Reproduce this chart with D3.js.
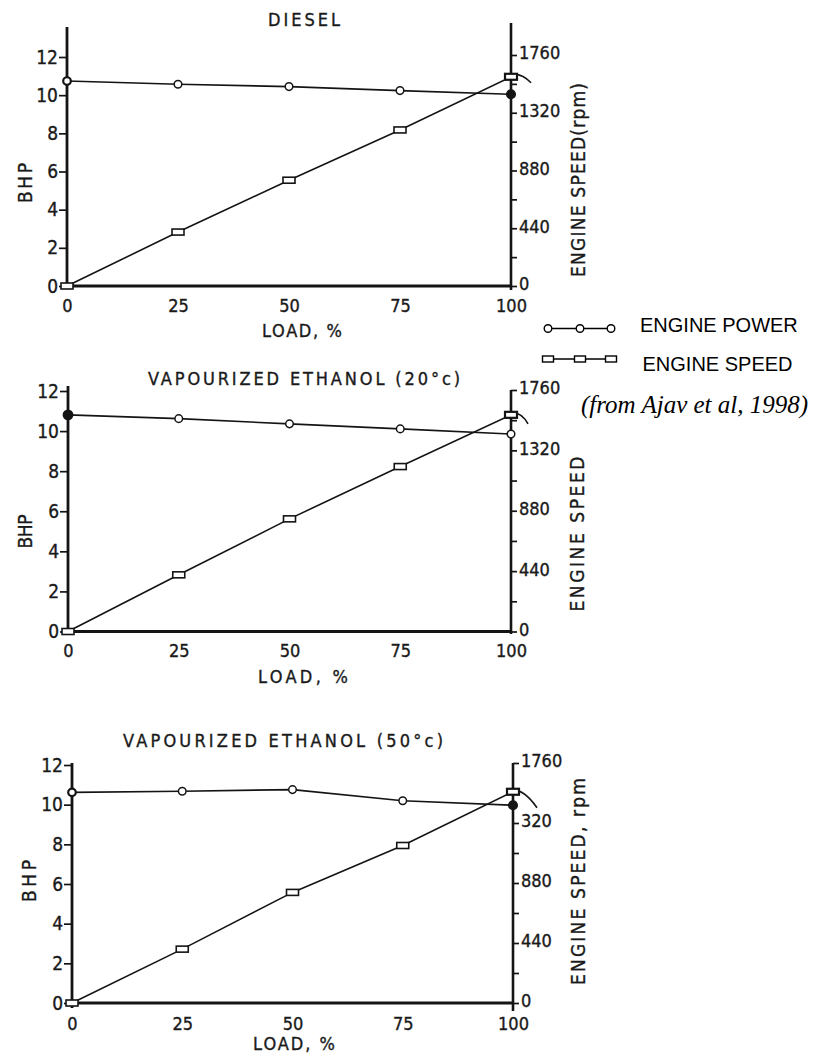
<!DOCTYPE html>
<html>
<head>
<meta charset="utf-8">
<script src="https://cdn.jsdelivr.net/npm/d3@7"></script>
<style>
  body { margin: 0; background: #fff; }
  svg { display: block; }
  .lab { font-family: "DejaVu Sans Condensed", "DejaVu Sans", sans-serif; fill: #1a1a1a; stroke: #1a1a1a; stroke-width: 0.35; }
  .leg { font-family: "Liberation Sans", Arial, sans-serif; fill: #000; }
  .cite { font-family: "Liberation Serif", "Times New Roman", serif; font-style: italic; fill: #000; }
</style>
</head>
<body>
<svg id="chart" width="826" height="1056"></svg>
<script>
// Engine power (BHP) and engine speed (rpm) against load, three fuels
const loads = [0, 25, 50, 75, 100];

const dieselPower = [10.74, 10.57, 10.45, 10.24, 10.05];
const dieselSpeed = [0, 411, 806, 1189, 1594];

const eth20Power = [10.81, 10.62, 10.36, 10.11, 9.85];
const eth20Speed = [0, 413, 821, 1202, 1579];

const eth50Power = [10.62, 10.68, 10.76, 10.2, 9.97];
const eth50Speed = [0, 395, 811, 1155, 1549];

const bhpTicks = [0, 2, 4, 6, 8, 10, 12];
const rpmTicks = [0, 440, 880, 1320, 1760];
const rpmMinorTicks = [220, 660, 1100, 1540];
const loadTicks = [0, 25, 50, 75, 100];

const rpmTickLabels = ["0", "440", "880", "1320", "1760"];
const rpmTickLabelsEth50 = ["0", "440", "880", "320", "1760"];

const panelTitles = ["DIESEL", "VAPOURIZED ETHANOL (20°c)", "VAPOURIZED ETHANOL (50°c)"];
const speedAxisTitles = ["ENGINE SPEED(rpm)", "ENGINE SPEED", "ENGINE SPEED, rpm"];
const powerAxisTitle = "BHP";
const loadAxisTitle = "LOAD, %";
const legendLabels = ["ENGINE POWER", "ENGINE SPEED"];
const sourceNote = "(from Ajav et al, 1998)";

// Panel frames and text placement
const panels = [
  { title: panelTitles[0], power: dieselPower, speed: dieselSpeed, rpmLabels: rpmTickLabels,
    speedTitle: speedAxisTitles[0], filledEnd: 4,
    x0: 67, x1: 511, y0: 286, yBhp12: 57, yRpmTop: 55,
    leftTop: 27, rightTop: 23, leftBottom: 288, rightBottom: 290,
    titleX: 268, titleY: 26, titleW: 72,
    xLabelY: 312, loadX: 262, loadY: 337, loadW: 80,
    bhpX: 32, bhpY: 183, bhpW: 40,
    spX: 585, spY: 180, spW: 194,
    arcEnd: [20, 6] },
  { title: panelTitles[1], power: eth20Power, speed: eth20Speed, rpmLabels: rpmTickLabels,
    speedTitle: speedAxisTitles[1], filledEnd: 0,
    x0: 68, x1: 511, y0: 631.5, yBhp12: 391, yRpmTop: 390,
    leftTop: 386, rightTop: 390, leftBottom: 634, rightBottom: 634,
    titleX: 148, titleY: 385, titleW: 312,
    xLabelY: 657.5, loadX: 258, loadY: 683, loadW: 90,
    bhpX: 31.5, bhpY: 531.5, bhpW: 34,
    spX: 583.5, spY: 534, spW: 155,
    arcEnd: [17, 9] },
  { title: panelTitles[2], power: eth50Power, speed: eth50Speed, rpmLabels: rpmTickLabelsEth50,
    speedTitle: speedAxisTitles[2], filledEnd: 4,
    x0: 72, x1: 513, y0: 1003, yBhp12: 765, yRpmTop: 763,
    leftTop: 763, rightTop: 763, leftBottom: 1008, rightBottom: 1011,
    titleX: 123, titleY: 746.5, titleW: 320,
    xLabelY: 1030, loadX: 253, loadY: 1050, loadW: 82,
    bhpX: 36, bhpY: 881, bhpW: 42,
    spX: 585, spY: 881.5, spW: 207,
    arcEnd: [24, 16] }
];

const svg = d3.select("#chart");
const ink = "#141414";
const labFont = '"DejaVu Sans Condensed","DejaVu Sans",sans-serif';

panels.forEach(p => {
  const g = svg.append("g");
  const x = d3.scaleLinear().domain([0, 100]).range([p.x0, p.x1]);
  const yL = d3.scaleLinear().domain([0, 12]).range([p.y0, p.yBhp12]);
  const yR = d3.scaleLinear().domain([0, 1760]).range([p.y0, p.yRpmTop]);

  // left BHP axis ticks
  const la = g.append("g").attr("transform", `translate(${p.x0},0)`)
    .call(d3.axisLeft(yL).tickValues(bhpTicks).tickSize(8).tickPadding(1).tickFormat(d3.format("d")));
  // right rpm axis ticks (labelled and minor)
  const ra = g.append("g").attr("transform", `translate(${p.x1},0)`)
    .call(d3.axisRight(yR).tickValues(rpmTicks).tickSize(6).tickPadding(2)
      .tickFormat((d, i) => p.rpmLabels[i]));
  const rm = g.append("g").attr("transform", `translate(${p.x1},0)`)
    .call(d3.axisRight(yR).tickValues(rpmMinorTicks).tickSize(6).tickFormat(""));
  // load axis labels
  const ba = g.append("g").attr("transform", `translate(0,${p.y0})`)
    .call(d3.axisBottom(x).tickValues(loadTicks).tickSize(0).tickPadding(p.xLabelY - p.y0 - 13)
      .tickFormat(d3.format("d")));

  [la, ra, rm, ba].forEach(a => {
    a.select(".domain").remove();
    a.selectAll(".tick line").attr("stroke", ink).attr("stroke-width", 1.7);
    a.selectAll(".tick text").attr("class", "lab").attr("font-size", 19)
      .attr("fill", ink).style("font-family", labFont);
  });
  ba.selectAll(".tick text").attr("font-size", 18);
  ra.selectAll(".tick text").attr("font-size", 18).attr("dy", "0.22em");

  // frame lines
  g.append("line").attr("x1", p.x0).attr("x2", p.x0).attr("y1", p.leftBottom).attr("y2", p.leftTop)
    .attr("stroke", ink).attr("stroke-width", 2.8);
  g.append("line").attr("x1", p.x1).attr("x2", p.x1).attr("y1", p.rightBottom).attr("y2", p.rightTop)
    .attr("stroke", ink).attr("stroke-width", 2.6);
  g.append("line").attr("x1", p.x0 - 1).attr("x2", p.x1).attr("y1", p.y0).attr("y2", p.y0)
    .attr("stroke", ink).attr("stroke-width", 2.8);

  // series lines
  const powerLine = d3.line().x((d, i) => x(loads[i])).y(d => yL(d));
  const speedLine = d3.line().x((d, i) => x(loads[i])).y(d => yR(d));
  g.append("path").attr("d", powerLine(p.power)).attr("fill", "none").attr("stroke", ink).attr("stroke-width", 1.6);
  g.append("path").attr("d", speedLine(p.speed)).attr("fill", "none").attr("stroke", ink).attr("stroke-width", 1.6);

  // curved stroke beside the full-load speed point
  const sx = x(loads[4]), sy = yR(p.speed[4]);
  g.append("path")
    .attr("d", `M${sx - 6},${sy} Q${sx + 8},${sy - 7} ${sx + p.arcEnd[0]},${sy + p.arcEnd[1]}`)
    .attr("fill", "none").attr("stroke", ink).attr("stroke-width", 1.6);

  // speed markers (flat open rectangles)
  g.selectAll(".sq").data(p.speed).join("rect")
    .attr("x", (d, i) => x(loads[i]) - 6).attr("y", d => yR(d) - 3)
    .attr("width", 12).attr("height", 6)
    .attr("fill", "#fff").attr("stroke", ink).attr("stroke-width", (d, i) => i === 4 ? 2.2 : 1.6);

  // power markers (open circles, one filled end)
  g.selectAll(".ci").data(p.power).join("circle")
    .attr("cx", (d, i) => x(loads[i])).attr("cy", d => yL(d))
    .attr("r", (d, i) => i === p.filledEnd ? 4.3 : 3.8)
    .attr("fill", (d, i) => i === p.filledEnd ? ink : "#fff")
    .attr("stroke", ink).attr("stroke-width", (d, i) => i === 0 ? 2.2 : 1.5);

  // titles
  g.append("text").attr("class", "lab").attr("x", p.titleX).attr("y", p.titleY)
    .attr("font-size", 18).attr("textLength", p.titleW).attr("lengthAdjust", "spacing").text(p.title);
  g.append("text").attr("class", "lab").attr("x", p.loadX).attr("y", p.loadY)
    .attr("font-size", 18).attr("textLength", p.loadW).attr("lengthAdjust", "spacing").text(loadAxisTitle);
  g.append("text").attr("class", "lab").attr("text-anchor", "middle")
    .attr("transform", `translate(${p.bhpX},${p.bhpY}) rotate(-90)`)
    .attr("font-size", 19).attr("textLength", p.bhpW).attr("lengthAdjust", "spacing").text(powerAxisTitle);
  g.append("text").attr("class", "lab").attr("text-anchor", "middle")
    .attr("transform", `translate(${p.spX},${p.spY}) rotate(-90)`)
    .attr("font-size", 19).attr("textLength", p.spW).attr("lengthAdjust", "spacing").text(p.speedTitle);
});

// legend
const leg = svg.append("g");
const legPowerY = 328.5, legSpeedY = 359;
const legXs = [548, 580, 611];
leg.append("line").attr("x1", legXs[0]).attr("x2", legXs[2]).attr("y1", legPowerY).attr("y2", legPowerY)
  .attr("stroke", "#000").attr("stroke-width", 1.3);
leg.selectAll(".lc").data(legXs).join("circle")
  .attr("cx", d => d).attr("cy", legPowerY).attr("r", 3.8)
  .attr("fill", "#fff").attr("stroke", "#000").attr("stroke-width", 1.4);
leg.append("line").attr("x1", legXs[0]).attr("x2", legXs[2]).attr("y1", legSpeedY).attr("y2", legSpeedY)
  .attr("stroke", "#000").attr("stroke-width", 1.3);
leg.selectAll(".ls").data(legXs).join("rect")
  .attr("x", d => d - 5.5).attr("y", legSpeedY - 3).attr("width", 11).attr("height", 6)
  .attr("fill", "#fff").attr("stroke", "#000").attr("stroke-width", 1.4);
leg.append("text").attr("class", "leg").attr("x", 640).attr("y", 332).attr("font-size", 20).text(legendLabels[0]);
leg.append("text").attr("class", "leg").attr("x", 642.5).attr("y", 371).attr("font-size", 20).text(legendLabels[1]);
leg.append("text").attr("class", "cite").attr("x", 581).attr("y", 413).attr("font-size", 25).text(sourceNote);
</script>
</body>
</html>
